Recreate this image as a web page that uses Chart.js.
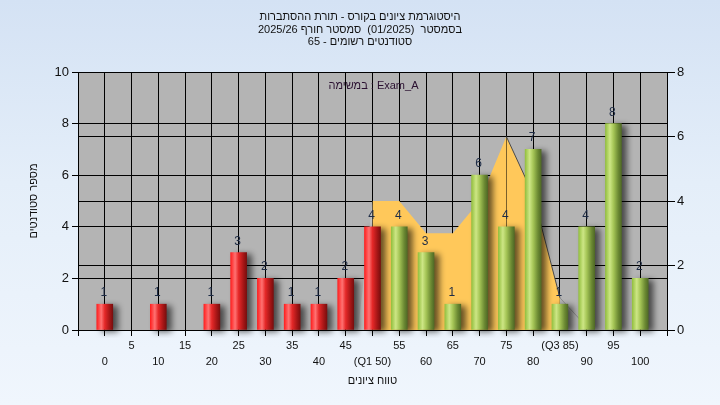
<!DOCTYPE html>
<html><head><meta charset="utf-8">
<script src="https://cdn.jsdelivr.net/npm/chart.js@4/dist/chart.umd.min.js"></script>
<style>
html,body{margin:0;padding:0;}
body{width:720px;height:405px;background:linear-gradient(180deg,#d4e2f4 0%,#e4eef9 45%,#f0f6fd 100%);overflow:hidden;}
canvas{display:block;}
</style></head><body>
<canvas id="c" width="720" height="405" dir="rtl"></canvas>
<script>
const titleLines = ['היסטוגרמת ציונים בקורס - תורת ההסתברות', 'בסמסטר  (01/2025)  סמסטר חורף 2025/26', 'סטודנטים רשומים - 65'];
const examLabel = 'במשימה : Exam_A';
const xTitle = 'טווח ציונים';
const yTitle = 'מספר סטודנטים';
const categories = [0,5,10,15,20,25,30,35,40,45,50,55,60,65,70,75,80,85,90,95,100];
const tickLabels = ['0','5','10','15','20','25','30','35','40','45','(Q1 50)','55','60','65','70','75','80','(Q3 85)','90','95','100'];
const counts = [1,0,1,0,1,3,2,1,1,2,4,4,3,1,6,4,7,1,4,8,2];
const q1 = 50;
const areaX = [50,55,60,65,70,75,80,85];
const areaValues = [4,4,3,3,4,6,4.2,1];
const edgeX = [47.3,50];
const edgeValues = [0,4];
const tailX = [85,90];
const tailValues = [1,0.1];
const leftRange = [0,10];
const rightRange = [0,8];

const FONT = "'Liberation Sans', Arial, 'DejaVu Sans', sans-serif";

function pts(xs, ys){ return xs.map((x,i)=>({x:x, y:ys[i]})); }

function barFill(c){
  const chart = c.chart;
  const raw = c.raw;
  const fallback = '#e02020';
  if (!raw || !chart.scales || !chart.scales.x) return fallback;
  if (!raw.y) return 'rgba(0,0,0,0)';
  const red = raw.x <= q1;
  const cx = chart.scales.x.getPixelForValue(raw.x);
  if (!isFinite(cx)) return red ? '#e02020' : '#a0c050';
  const g = chart.ctx.createLinearGradient(cx-8,0,cx+8,0);
  if (red){
    g.addColorStop(0,'#ff2020'); g.addColorStop(0.28,'#ff7272'); g.addColorStop(0.5,'#e52828');
    g.addColorStop(0.8,'#a51616'); g.addColorStop(1,'#7a0e0e');
  } else {
    g.addColorStop(0,'#94c040'); g.addColorStop(0.28,'#cde685'); g.addColorStop(0.5,'#a6c657');
    g.addColorStop(0.8,'#6c8a33'); g.addColorStop(1,'#506a26');
  }
  return g;
}

const bgPlugin = {
  id:'bg',
  beforeDraw(chart){
    const a = chart.chartArea, ctx = chart.ctx;
    ctx.save(); ctx.fillStyle = '#b4b4b4';
    ctx.fillRect(a.left, a.top, a.right-a.left, a.bottom-a.top);
    ctx.restore();
  }
};
const shadowPlugin = {
  id:'shadow',
  beforeDatasetDraw(chart, args){
    if (args.meta.type === 'bar'){
      const ctx = chart.ctx; ctx.save();
      ctx.shadowColor = 'rgba(0,0,0,0.6)'; ctx.shadowBlur = 6; ctx.shadowOffsetX = 5; ctx.shadowOffsetY = 2;
    }
  },
  afterDatasetDraw(chart, args){
    if (args.meta.type === 'bar') chart.ctx.restore();
  }
};
const labelPlugin = {
  id:'vals',
  afterDatasetsDraw(chart){
    const ctx = chart.ctx;
    const a = chart.chartArea;
    ctx.save();
    ctx.direction = 'ltr';
    ctx.font = '11px ' + FONT;
    ctx.textAlign = 'center'; ctx.textBaseline = 'middle';
    ctx.fillStyle = '#2a1030';
    ctx.fillText(examLabel, (a.left+a.right)/2 + 1, a.top + 14);
    ctx.font = '12px ' + FONT;
    ctx.fillStyle = '#1e2c46';
    ctx.textBaseline = 'alphabetic';
    chart.data.datasets.forEach((ds, di) => {
      if (ds.type !== 'bar') return;
      const meta = chart.getDatasetMeta(di);
      meta.data.forEach((el, i) => {
        const v = counts[i];
        if (v > 0) ctx.fillText(String(v), el.x - 1, el.y - 8);
      });
    });
    ctx.restore();
  }
};

const chart = new Chart(document.getElementById('c'), {
  data: {
    datasets: [
      { type:'bar', label:'counts', data: pts(categories, counts), yAxisID:'y', xAxisID:'x',
        backgroundColor: barFill, borderWidth:0, barThickness:16, order:1, clip:8 },
      { type:'line', label:'iqr', data: pts(areaX, areaValues), yAxisID:'y1', xAxisID:'x',
        backgroundColor:'#ffc85a', fill:'origin', pointRadius:0, tension:0, borderWidth:1,
        borderColor:'rgba(0,0,0,0)',
        segment:{ borderColor: s => (s.p0.parsed.x >= 75 ? '#4a4a4a' : 'rgba(0,0,0,0)') },
        order:2 },
      { type:'line', label:'edge', data: pts(edgeX, edgeValues), yAxisID:'y1', xAxisID:'x',
        backgroundColor:'#c4c4c4', fill:'origin', pointRadius:0, tension:0, borderWidth:0,
        borderColor:'rgba(0,0,0,0)', order:3 },
      { type:'line', label:'tail', data: pts(tailX, tailValues), yAxisID:'y1', xAxisID:'x',
        fill:false, pointRadius:0, tension:0, borderWidth:1, borderColor:'#8e8e8e', order:3 }
    ]
  },
  options: {
    responsive:false, animation:false, devicePixelRatio:1,
    layout:{ padding:0 },
    plugins:{
      legend:{ display:false }, tooltip:{ enabled:false },
      title:{ display:true, text:titleLines, color:'#111111',
        font:{ family:FONT, size:11, lineHeight:'12.5px', weight:'normal' },
        padding:{ top:11, bottom:23.5 } }
    },
    scales:{
      x:{ type:'linear', position:'bottom', min:-5, max:105, offset:false,
        grid:{ color:'#000', lineWidth:1, tickLength:6, offset:false, drawTicks:true, tickColor:'#000' },
        border:{ color:'#000' },
        ticks:{ stepSize:5, autoSkip:false, maxRotation:0, minRotation:0, padding:2, color:'#111',
          font:{ family:FONT, size:11, lineHeight:'16px' },
          callback:(v)=>{ const i = categories.indexOf(v); if (i < 0) return ''; const l = tickLabels[i]; return (i % 2 === 0) ? ['', l] : [l, '']; } },
        title:{ display:true, text:xTitle, color:'#111', font:{ family:FONT, size:11 }, padding:{ top:0, bottom:17.5 } },
        afterFit:(s)=>{ s.height = 75; }
      },
      y:{ type:'linear', position:'left', min:leftRange[0], max:leftRange[1],
        grid:{ color:'#000', lineWidth:1, tickLength:6, tickColor:'#000' },
        border:{ color:'#000' },
        ticks:{ stepSize:2, padding:3, color:'#111', font:{ family:FONT, size:13 } },
        title:{ display:true, text:yTitle, color:'#111', font:{ family:FONT, size:11 }, padding:{ top:27.5, bottom:0 } },
        afterFit:(s)=>{ s.width = 78; }
      },
      y1:{ type:'linear', position:'right', min:rightRange[0], max:rightRange[1],
        grid:{ color:'#000', lineWidth:1, tickLength:8, drawOnChartArea:true, tickColor:'#000' },
        border:{ color:'#000' },
        ticks:{ stepSize:2, padding:2, color:'#111', font:{ family:FONT, size:13 } },
        afterFit:(s)=>{ s.width = 53; }
      }
    }
  },
  plugins:[bgPlugin, shadowPlugin, labelPlugin]
});
chart.update();
</script>
</body></html>
